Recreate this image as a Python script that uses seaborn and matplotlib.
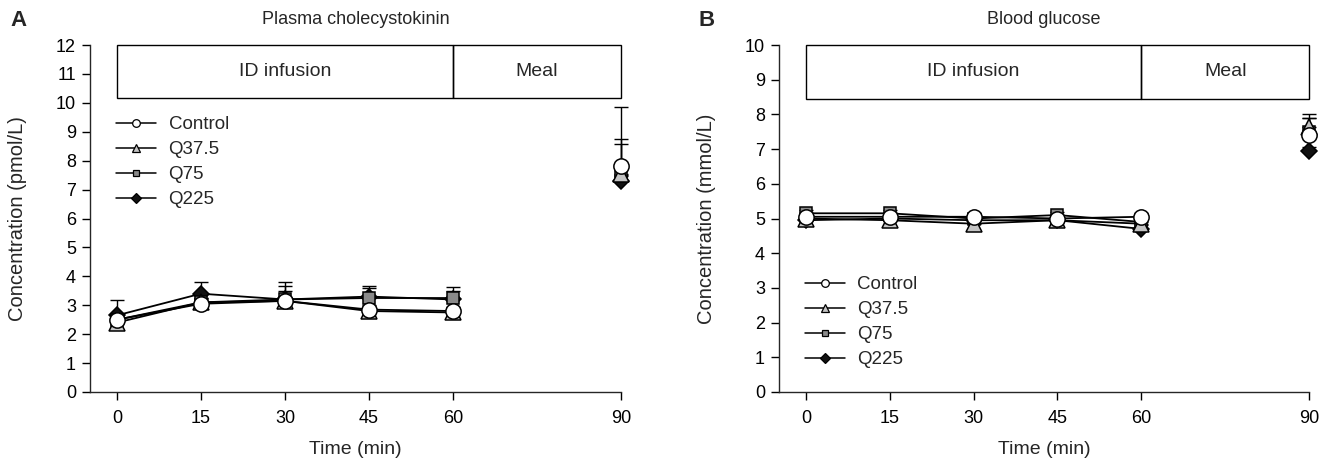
import matplotlib
matplotlib.use("Agg")
import matplotlib.pyplot as plt
from matplotlib.patches import Rectangle
from matplotlib.lines import Line2D
import seaborn as sns
import pandas as pd

# ---------------- data ----------------
times = [0, 15, 30, 45, 60]
meal_time = 90
groups = ["Control", "Q37.5", "Q75", "Q225"]

# Panel A: plasma cholecystokinin (pmol/L)
cck_control = [2.5, 3.05, 3.15, 2.85, 2.8]
cck_q375 = [2.4, 3.1, 3.15, 2.8, 2.75]
cck_q75 = [2.5, 3.1, 3.2, 3.25, 3.25]
cck_q225 = [2.65, 3.4, 3.2, 3.3, 3.2]
cck_meal = [7.8, 7.55, 7.5, 7.28]
cck_err_control = [0.15, 0.15, 0.67, 0.15, 0.15]
cck_err_q375 = [0.15, 0.15, 0.15, 0.15, 0.15]
cck_err_q75 = [0.15, 0.15, 0.47, 0.35, 0.25]
cck_err_q225 = [0.53, 0.42, 0.3, 0.37, 0.44]
cck_meal_err = [2.07, 1.2, 1.07, 0.2]

# Panel B: blood glucose (mmol/L)
glu_control = [5.05, 5.05, 5.05, 5.0, 5.05]
glu_q375 = [5.0, 4.95, 4.85, 4.95, 4.85]
glu_q75 = [5.15, 5.15, 5.0, 5.1, 4.9]
glu_q225 = [4.95, 5.0, 4.95, 4.95, 4.7]
glu_meal = [7.4, 7.65, 7.5, 6.95]
glu_err_control = [0.1, 0.1, 0.1, 0.1, 0.1]
glu_err_q375 = [0.1, 0.1, 0.1, 0.1, 0.1]
glu_err_q75 = [0.1, 0.1, 0.1, 0.1, 0.1]
glu_err_q225 = [0.1, 0.1, 0.1, 0.1, 0.1]
glu_meal_err = [0.5, 0.36, 0.4, 0.1]

x_ticks = [0, 15, 30, 45, 60, 90]

# ---------------- style ----------------
sns.set_theme(style="ticks")
plt.rcParams["font.family"] = ["Liberation Sans", "DejaVu Sans"]
plt.rcParams["axes.linewidth"] = 1.0

styles = {
    "Control": dict(marker="o", mfc="white", big=11, small=5.5),
    "Q37.5": dict(marker="^", mfc="#c4c4c4", big=11, small=6),
    "Q75": dict(marker="s", mfc="#8a8a8a", big=8.5, small=5),
    "Q225": dict(marker="D", mfc="#111111", big=8, small=5),
}
draw_order = ["Q225", "Q75", "Q37.5", "Control"]
zbase = {"Q225": 4, "Q75": 5, "Q37.5": 6, "Control": 7}

fig = plt.figure(figsize=(13.32, 4.62), dpi=100)
axA = fig.add_axes([90 / 1332, 70 / 462, 531 / 1332, 347 / 462])
axB = fig.add_axes([779 / 1332, 70 / 462, 530 / 1332, 347 / 462])

panels = [
    dict(ax=axA, series={"Control": cck_control, "Q37.5": cck_q375, "Q75": cck_q75, "Q225": cck_q225},
         errs={"Control": cck_err_control, "Q37.5": cck_err_q375, "Q75": cck_err_q75, "Q225": cck_err_q225},
         meal=cck_meal, meal_err=cck_meal_err, ymax=12, box_bottom=10.15,
         title="Plasma cholecystokinin", ylabel="Concentration (pmol/L)", letter="A",
         legend_top=116),
    dict(ax=axB, series={"Control": glu_control, "Q37.5": glu_q375, "Q75": glu_q75, "Q225": glu_q225},
         errs={"Control": glu_err_control, "Q37.5": glu_err_q375, "Q75": glu_err_q75, "Q225": glu_err_q225},
         meal=glu_meal, meal_err=glu_meal_err, ymax=10, box_bottom=8.45,
         title="Blood glucose", ylabel="Concentration (mmol/L)", letter="B",
         legend_top=276),
]

for p in panels:
    ax = p["ax"]
    for g in draw_order:
        st = styles[g]
        vals = p["series"][g]
        err = p["errs"][g]
        gi = groups.index(g)
        # upper error bars
        ax.errorbar(times + [meal_time], vals + [p["meal"][gi]],
                    yerr=[[0] * 6, err + [p["meal_err"][gi]]],
                    fmt="none", ecolor="black", elinewidth=1.0, capsize=5,
                    capthick=1.0, zorder=2, clip_on=False)
        df = pd.DataFrame({"time": times, "value": vals})
        sns.lineplot(data=df, x="time", y="value", ax=ax, color="black",
                     linewidth=1.3, marker=st["marker"], markersize=st["big"],
                     markerfacecolor=st["mfc"], markeredgecolor="black",
                     markeredgewidth=1.1, zorder=zbase[g], legend=False,
                     clip_on=False)
        dm = pd.DataFrame({"time": [meal_time], "value": [p["meal"][gi]]})
        sns.lineplot(data=dm, x="time", y="value", ax=ax, color="black",
                     linewidth=0, marker=st["marker"], markersize=st["big"],
                     markerfacecolor=st["mfc"], markeredgecolor="black",
                     markeredgewidth=1.1, zorder=zbase[g], legend=False,
                     clip_on=False)

    ax.set_xlim(-4.8, 90)
    ax.set_ylim(0, p["ymax"])
    ax.set_xticks(x_ticks)
    ax.set_yticks(range(0, p["ymax"] + 1))
    ax.tick_params(axis="both", direction="out", length=6, width=1.0,
                   labelsize=13, colors="black")
    ax.tick_params(axis="x", pad=7)
    ax.tick_params(axis="y", pad=4)
    ax.spines["top"].set_visible(False)
    ax.spines["right"].set_visible(False)
    ax.set_xlabel("Time (min)", fontsize=14)
    ax.xaxis.set_label_coords(0.5, -0.14)
    ax.set_ylabel(p["ylabel"], fontsize=14.5)
    ax.yaxis.set_label_coords(-0.118, 0.5)

    # protocol boxes
    ymax = p["ymax"]
    bb = p["box_bottom"]
    ax.add_patch(Rectangle((0, bb), 60, ymax - bb, fill=False, edgecolor="black",
                           linewidth=1.0, clip_on=False, zorder=1))
    ax.add_patch(Rectangle((60, bb), 30, ymax - bb, fill=False, edgecolor="black",
                           linewidth=1.0, clip_on=False, zorder=1))
    ax.text(30, (ymax + bb) / 2, "ID infusion", ha="center", va="center", fontsize=14)
    ax.text(75, (ymax + bb) / 2, "Meal", ha="center", va="center", fontsize=14)

    # legend
    handles = []
    for g in groups:
        st = styles[g]
        handles.append(Line2D([0], [0], color="black", linewidth=1.1,
                              marker=st["marker"], markersize=st["small"],
                              markerfacecolor=st["mfc"], markeredgecolor="black",
                              markeredgewidth=0.9))
    bbox = ax.get_position()
    x_anchor = (bbox.x0 * 1332 + 26) / 1332
    y_anchor = 1 - p["legend_top"] / 462
    ax.legend(handles, groups, loc="upper left", bbox_to_anchor=(x_anchor, y_anchor),
              bbox_transform=fig.transFigure,
              frameon=False, fontsize=13.5, handlelength=2.15, handletextpad=0.65,
              labelspacing=0.42, borderaxespad=0, borderpad=0)

    # title and panel letter
    fig.text(bbox.x0 + bbox.width / 2, 1 - 20 / 462, p["title"], ha="center",
             va="center", fontsize=13)
    fig.text(bbox.x0 - 80 / 1332, 1 - 20 / 462, p["letter"], ha="left",
             va="center", fontsize=16, fontweight="bold")

fig.savefig("out.png", dpi=100)
